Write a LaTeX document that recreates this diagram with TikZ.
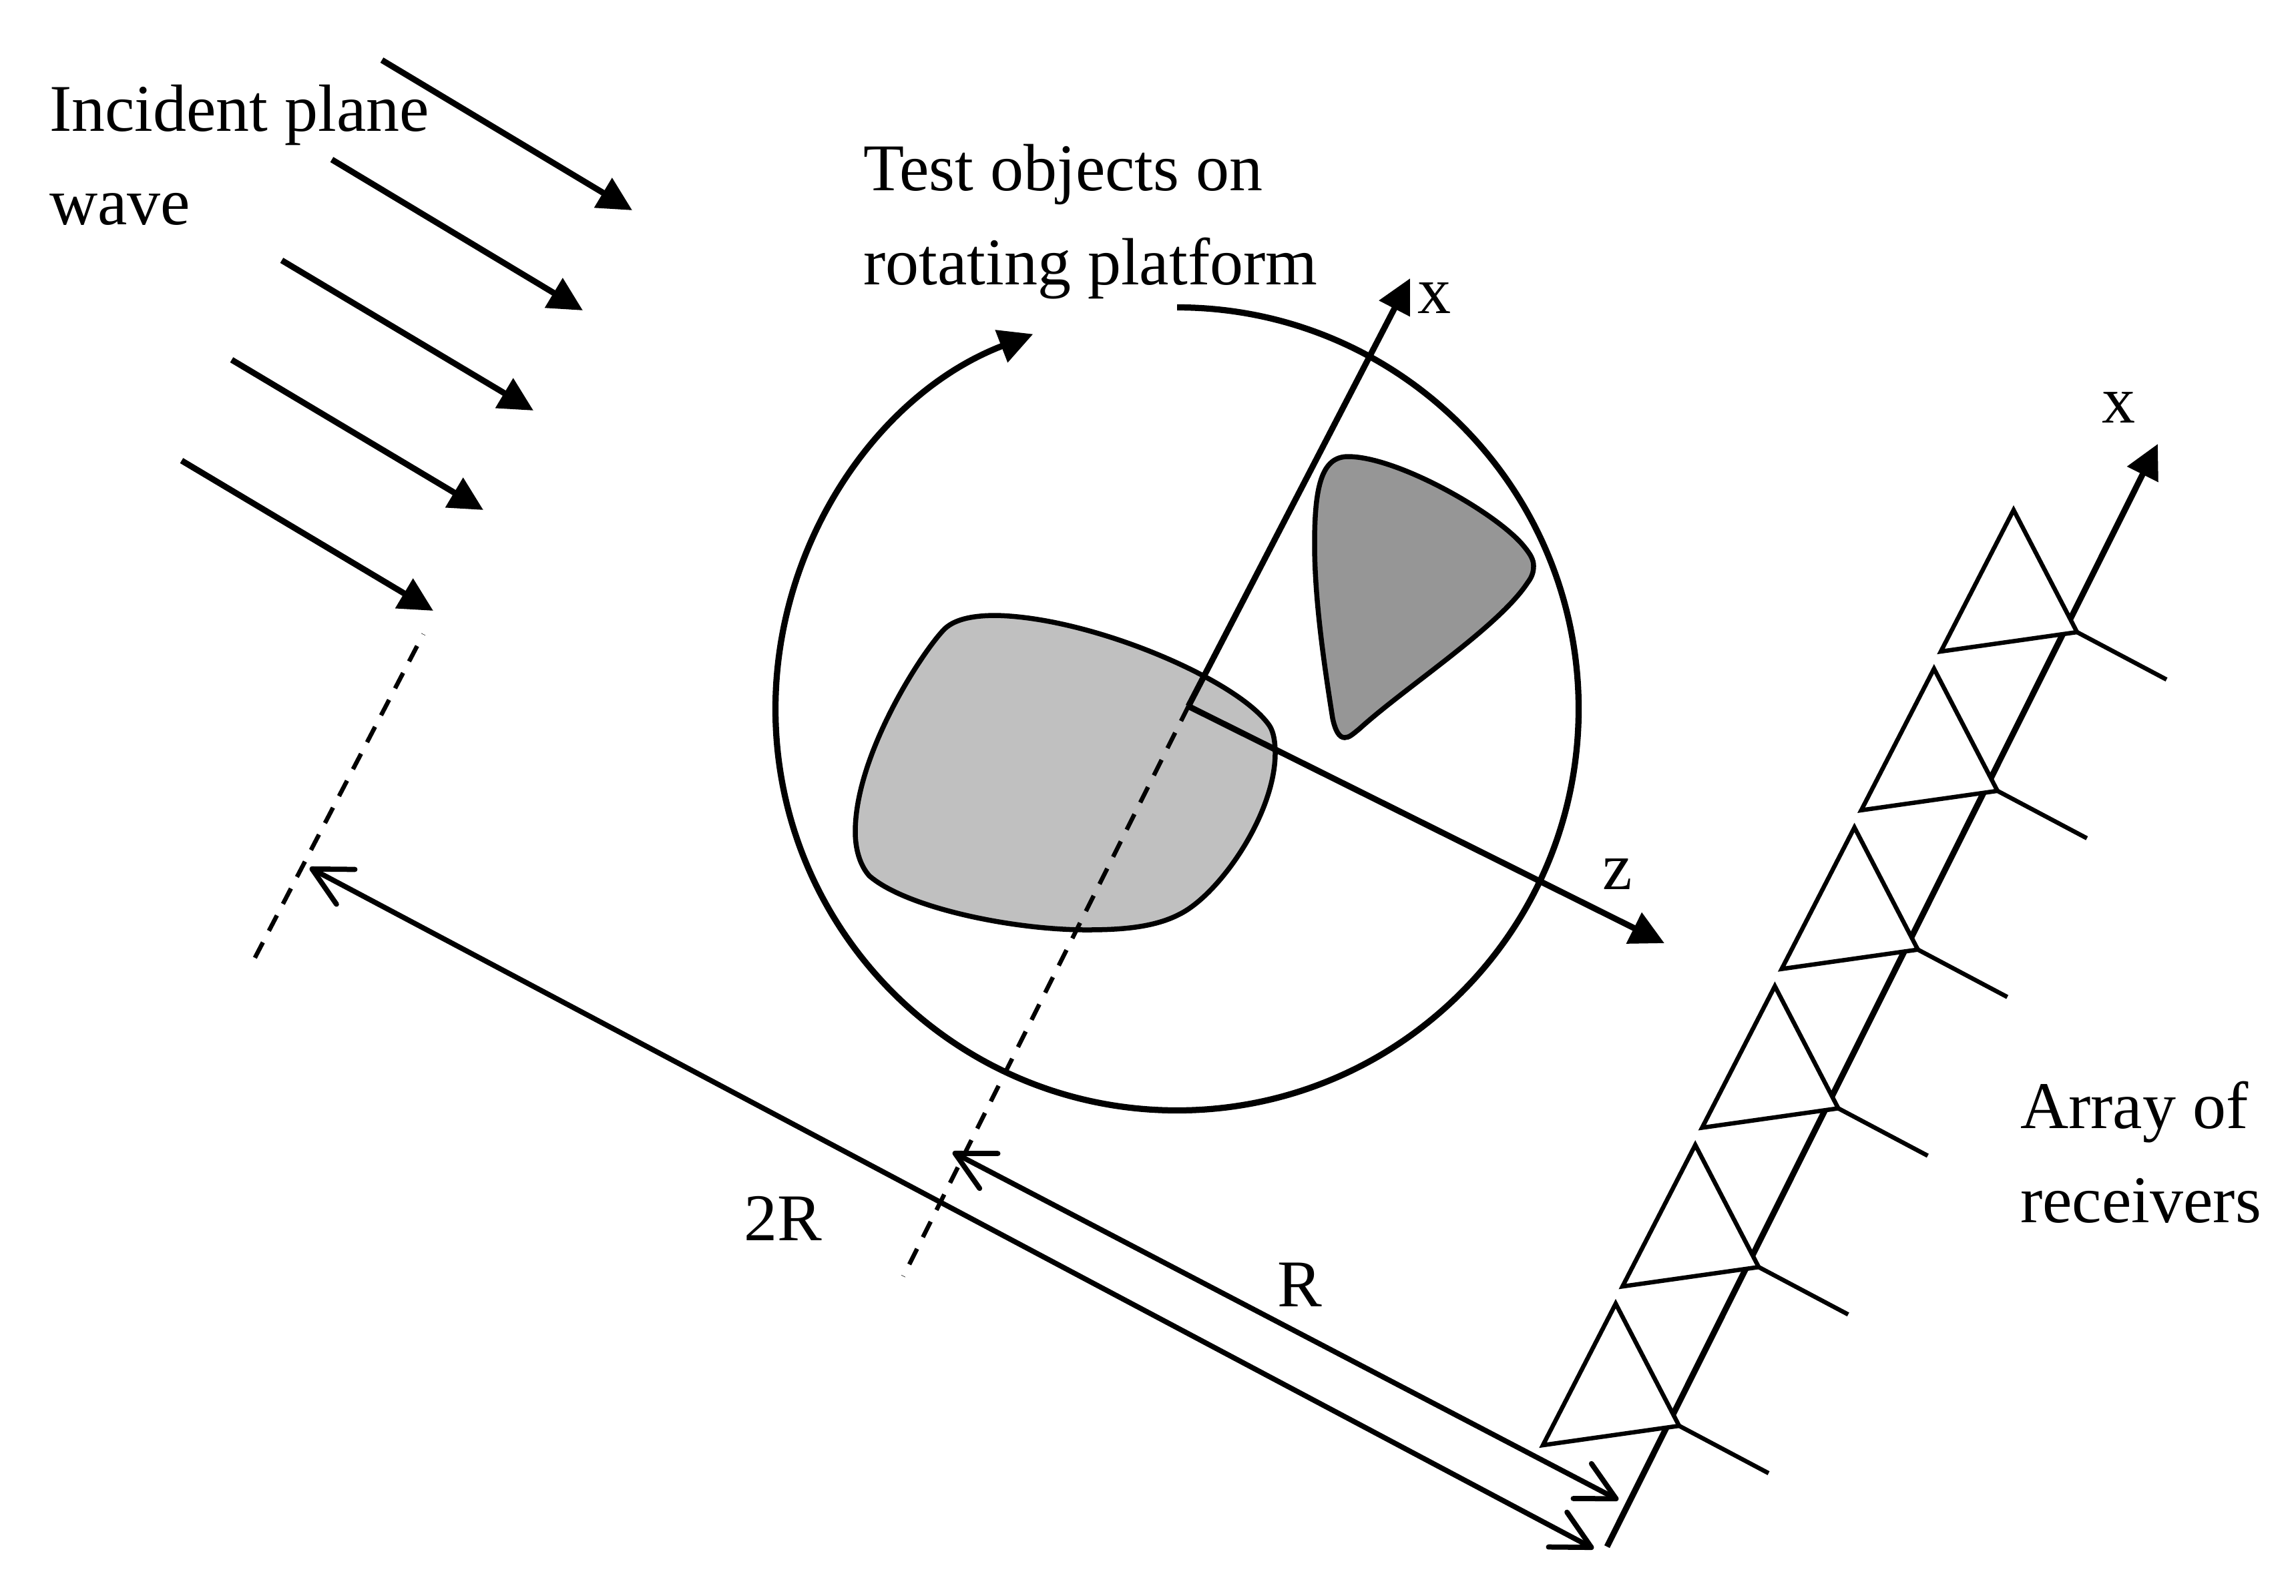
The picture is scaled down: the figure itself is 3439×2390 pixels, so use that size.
\documentclass[tikz,border=0pt]{standalone}
\usepackage{fontspec}
\setmainfont{Liberation Serif}
\usetikzlibrary{arrows.meta,calc}
\definecolor{lightblob}{HTML}{C0C0C0}
\definecolor{darkblob}{HTML}{969696}
\tikzset{
 axisline/.style={line width=1.8pt,-{Triangle[length=10.2pt,width=10pt]}},
 dimline/.style={line width=1.55pt,{Straight Barb[length=11.4pt,width=11.8pt,line width=1.55pt,round]}-{Straight Barb[length=11.4pt,width=11.8pt,line width=1.55pt,round]}},
 dashline/.style={line width=1.3pt,dash pattern=on 5.2pt off 3.9pt,dash phase=5.1pt},
 rim/.style={line width=1.85pt},
 blob/.style={line width=1.5pt,draw=black},
 recv/.style={line width=1.3pt,line join=miter,miter limit=10},
 lab/.style={inner sep=0pt,anchor=base west,font=\fontsize{20pt}{24pt}\selectfont},
}
\begin{document}
\begin{tikzpicture}[x=0.2pt,y=-0.2pt]
\useasboundingbox (0,0) rectangle (3439,2390);
% wave arrows
\foreach \i/\sx/\sy/\tx/\ty in {1/572/90/947/315,2/497/239/873/465,3/422/390/799/615,4/347/539/724/764,5/272/690/649/915}{
 \coordinate (ws\i) at (\sx,\sy);
 \coordinate (wt\i) at (\tx,\ty);
 \draw[axisline] (ws\i) -- (wt\i);
}
% objects
\begin{scope}[xshift=-0.6pt]
\fill[lightblob,blob] (1495,922) .. controls (1640,925) and (1860,1020) .. (1905,1088)
 .. controls (1911,1098) and (1913,1112) .. (1913,1130)
 .. controls (1912,1220) and (1830,1340) .. (1769,1370)
 .. controls (1730,1390) and (1680,1393) .. (1630,1393)
 .. controls (1520,1393) and (1360,1360) .. (1305,1312)
 .. controls (1290,1295) and (1284,1270) .. (1284,1246)
 .. controls (1284,1130) and (1385,975) .. (1418,942)
 .. controls (1435,926) and (1465,922) .. (1495,922) -- cycle;
\end{scope}
\begin{scope}[xshift=-1.2pt]
\fill[darkblob,blob] (2025,684) .. controls (2100,684) and (2250,770) .. (2289,819)
 .. controls (2298,830) and (2303,838) .. (2303,848)
 .. controls (2303,858) and (2300,865) .. (2294,873)
 .. controls (2250,940) and (2110,1030) .. (2042,1092)
 .. controls (2032,1100) and (2027,1105) .. (2020,1105)
 .. controls (2012,1105) and (2006,1095) .. (2002,1076)
 .. controls (1990,1000) and (1975,900) .. (1975,815)
 .. controls (1975,730) and (1985,684) .. (2025,684) -- cycle;
\end{scope}
% platform
\coordinate (c) at (1763,1062);
\draw[rim,-{Triangle[length=10.2pt,width=10pt]}] ($(c)+(-90:601.5)$) arc[start angle=-90,end angle=249,radius=601.5];
% axes
\coordinate (o) at (1780,1058);
\coordinate (xt) at (2112,417);
\coordinate (zt) at (2493,1413);
\coordinate (de) at (1353,1912);
\draw[axisline] (o) -- (xt);
\draw[axisline] (o) -- (zt);
\draw[dashline] (de) -- (o);
\coordinate (da) at (634,950);
\coordinate (db) at (376,1446);
\draw[dashline] (da) -- (db);
% array
\coordinate (as) at (2407,2317);
\coordinate (at) at (3232,665);
\draw[axisline] (as) -- (at);
\foreach \k in {0,...,5}{
 \coordinate (ap\k) at ({3016-119.2*\k},{764+237.8*\k});
 \coordinate (le\k) at ({2907-119.2*\k},{976+237.8*\k});
 \coordinate (ri\k) at ({3111-119.2*\k},{947+237.8*\k});
 \coordinate (ta\k) at ({3245-119.2*\k},{1018+237.8*\k});
 \filldraw[recv,fill=white] (ap\k) -- (le\k) -- (ri\k) -- cycle;
 \draw[recv] (ri\k) -- (ta\k);
}
% dimensions
\coordinate (a1) at (464,1300);
\coordinate (a2) at (2387,2320);
\coordinate (b1) at (1427,1726);
\coordinate (b2) at (2424,2247);
\draw[dimline] (a1) -- (a2);
\draw[dimline] (b1) -- (b2);
% labels
\node[lab] (t1) at (73,196) {Incident plane};
\node[lab] (t2) at (73,336) {wave};
\node[lab] (t3) at (1292,285) {Test objects on};
\node[lab] (t4) at (1292,426) {rotating platform};
\node[lab] (t5) at (2122,469) {x};
\node[lab] (t6) at (2399,1332) {z};
\node[lab] (t7) at (3147,633) {x};
\node[lab] (t8) at (1113,1858) {2R};
\node[lab] (t9) at (1912,1957) {R};
\node[lab] (t10) at (3025,1690) {Array of};
\node[lab] (t11) at (3025,1831) {receivers};
\end{tikzpicture}
\end{document}
